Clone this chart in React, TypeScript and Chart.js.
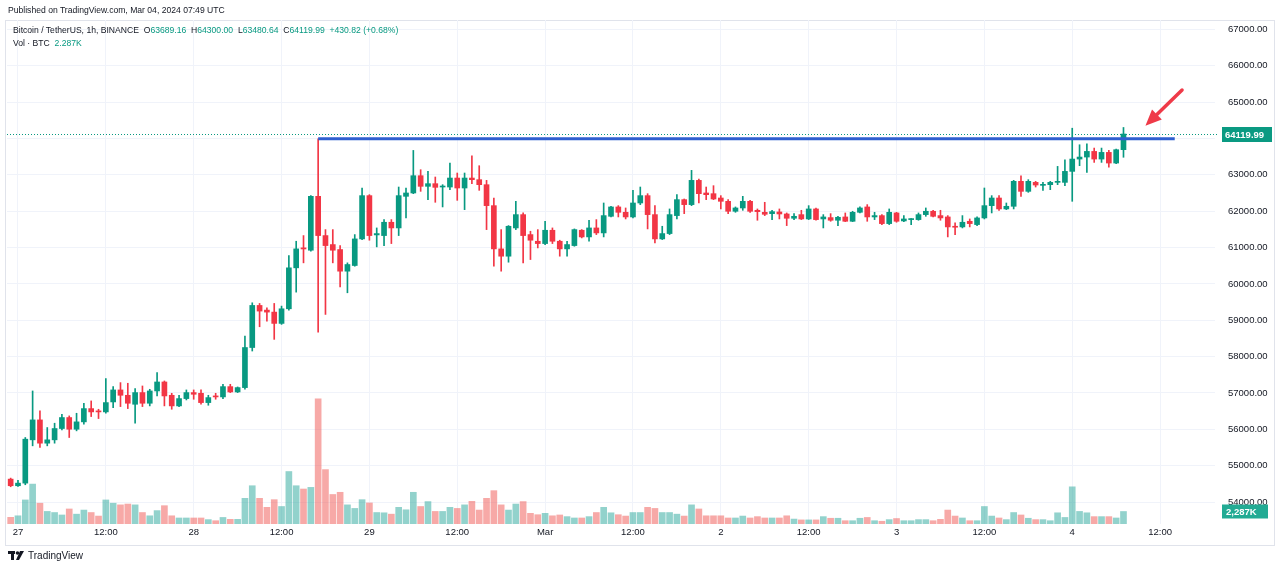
import React, { useEffect, useRef } from "react";
import { Chart, registerables } from "chart.js";
Chart.register(...registerables);

// First candle = Feb 26 23:00 (hour -1 relative to Feb 27 00:00), 1h candles
const firstHour = -1;
const opens = [
  54632, 54450, 54522, 55712, 56260, 55620, 55712, 56023, 56325, 56004, 56206, 56571, 56498, 56480, 56754, 57084, 56937,
  56690, 57011, 56718, 57056, 57303, 56937, 56645, 56846, 57011, 56992, 56736, 56919, 56892, 57175, 57029, 57148, 58250,
  59407, 59279, 59224, 58913, 59315, 60441, 60990, 60925, 62407, 61328, 61081, 60944, 60349, 60505, 61236, 62426, 61346,
  61328, 61694, 61538, 62407, 62499, 62974, 62682, 62755, 62663, 62663, 62910, 62636, 62910, 62865, 62727, 62151, 60962,
  60761, 61538, 61904, 61355, 61172, 61108, 61474, 61172, 60962, 61053, 61474, 61291, 61538, 61401, 61858, 62115, 61968,
  61840, 62224, 62426, 61904, 61236, 61383, 61877, 62316, 62179, 62846, 62499, 62480, 62361, 62270, 61996, 62087, 62270,
  62023, 61968, 61931, 61977, 61922, 61804, 61904, 61785, 62060, 61785, 61822, 61749, 61840, 61721, 61968, 62115, 61840,
  61877, 61657, 61950, 61730, 61767, 61767, 61904, 61996, 61877, 61840, 61584, 61566, 61721, 61630, 61813, 62151, 62361,
  62060, 62133, 62819, 62544, 62791, 62709, 62727, 62791, 62791, 63093, 63432, 63487, 63642, 63432, 63615, 63322, 63689.16,
];
const highs = [
  54660, 54596, 55776, 57056, 56507, 56050, 56169, 56416, 56370, 56443, 56718, 56782, 56553, 57395, 57175, 57285, 57267,
  57120, 57193, 57102, 57559, 57331, 56992, 56937, 57084, 57084, 57084, 56937, 56992, 57239, 57239, 57166, 58565, 59480,
  59462, 59343, 59462, 59389, 60779, 61172, 61328, 62426, 63990, 61492, 61492, 61053, 60578, 61355, 62636, 62453, 61538,
  61767, 61767, 62663, 62636, 63669, 63139, 63093, 62938, 62727, 63322, 63048, 63048, 63523, 63249, 62846, 62361, 61492,
  61602, 62270, 61950, 61447, 61492, 61721, 61538, 61200, 61172, 61511, 61492, 61749, 61767, 62224, 62133, 62151, 62087,
  62572, 62663, 62480, 62151, 61584, 62060, 62453, 62334, 63121, 62883, 62663, 62700, 62426, 62316, 62115, 62407, 62297,
  62060, 62243, 62023, 62060, 61950, 61931, 62023, 62151, 62087, 61904, 61931, 61858, 61950, 61996, 62115, 62179, 61968,
  61904, 62060, 61968, 61877, 61794, 61950, 62087, 62023, 62023, 61877, 61675, 61877, 61785, 61840, 62636, 62426, 62426,
  62224, 62846, 62974, 62865, 62819, 62791, 62819, 63230, 63413, 64280, 63825, 63852, 63734, 63734, 63669, 63706, 64300,
];
const lows = [
  54422, 54431, 54477, 55547, 55501, 55547, 55620, 55986, 55776, 55959, 56142, 56352, 56297, 56443, 56599, 56626, 56571,
  56169, 56626, 56645, 56919, 56645, 56553, 56626, 56809, 56828, 56690, 56663, 56828, 56846, 57011, 57011, 57102, 58154,
  58821, 58977, 58474, 58886, 59279, 59773, 60578, 60898, 58675, 59160, 60578, 59919, 59755, 60486, 61218, 61200, 61017,
  61053, 61108, 61328, 61813, 62480, 62544, 62316, 62243, 62115, 62590, 62297, 62041, 62755, 62572, 61492, 60486, 60349,
  60596, 61492, 60578, 60669, 60989, 61081, 61108, 60761, 60761, 61035, 61264, 61172, 61355, 61291, 61840, 61840, 61785,
  61813, 62179, 61511, 61127, 61218, 61355, 61785, 61931, 62151, 62224, 62316, 62316, 62060, 61931, 61968, 62023, 61968,
  61749, 61877, 61767, 61785, 61602, 61767, 61767, 61767, 61749, 61538, 61721, 61602, 61712, 61712, 61950, 61721, 61767,
  61630, 61630, 61694, 61712, 61630, 61749, 61858, 61840, 61749, 61291, 61355, 61538, 61566, 61602, 61785, 61950, 62023,
  62041, 62060, 62407, 62517, 62663, 62572, 62590, 62727, 62700, 62270, 63249, 63066, 63340, 63340, 63212, 63304, 63480.64,
];
const closes = [
  54450, 54522, 55730, 56260, 55620, 55712, 56023, 56325, 56004, 56206, 56571, 56480, 56480, 56736, 57084, 56937, 56718,
  57011, 56718, 57056, 57303, 56919, 56645, 56846, 57011, 56965, 56736, 56873, 56892, 57175, 57029, 57148, 58250, 59407,
  59252, 59224, 58913, 59315, 60441, 60962, 60960, 62407, 61328, 61053, 60925, 60349, 60532, 61236, 62426, 61328, 61383,
  61694, 61538, 62426, 62499, 62974, 62682, 62755, 62654, 62682, 62910, 62636, 62910, 62865, 62727, 62151, 60962, 60761,
  61584, 61904, 61328, 61200, 61108, 61474, 61172, 60962, 61081, 61492, 61291, 61538, 61401, 61877, 62115, 61968, 61840,
  62224, 62426, 61904, 61236, 61383, 61904, 62316, 62179, 62846, 62480, 62453, 62334, 62270, 61996, 62087, 62270, 61996,
  61986, 61913, 61986, 61922, 61804, 61858, 61785, 62060, 61767, 61840, 61749, 61831, 61721, 61968, 62087, 61840, 61877,
  61657, 61968, 61721, 61785, 61785, 61904, 61996, 61858, 61813, 61566, 61557, 61694, 61657, 61813, 62151, 62361, 62060,
  62133, 62819, 62544, 62819, 62718, 62727, 62791, 62819, 63093, 63432, 63487, 63642, 63432, 63615, 63322, 63689, 64119.99,
];
// Volume in thousands of BTC
const volumesK = [
  1.22, 1.5, 4.4, 7.3, 3.8, 2.3, 2.1, 1.65, 2.75, 1.8, 2.55, 2.1, 1.45, 4.4, 3.8, 3.5, 3.65,
  3.5, 2.1, 1.5, 2.45, 3.35, 1.5, 1.1, 1.1, 1.1, 1.1, 0.8, 0.6, 1.2, 0.85, 0.85, 4.7, 7.0,
  4.7, 3.05, 4.45, 3.2, 9.6, 7.0, 6.4, 6.7, 22.9, 9.95, 5.4, 5.8, 3.5, 2.85, 4.45, 3.85, 2.1,
  2.05, 1.8, 3.05, 2.6, 5.8, 3.2, 4.1, 2.3, 2.3, 3.05, 2.85, 3.5, 4.15, 2.55, 4.7, 6.1, 3.5,
  2.55, 3.65, 4.1, 1.95, 1.7, 1.95, 1.5, 1.65, 1.35, 1.1, 1.1, 1.35, 2.1, 3.05, 2.05, 1.7, 1.45,
  2.1, 2.1, 3.05, 2.85, 2.1, 2.1, 1.8, 1.45, 3.5, 2.75, 1.5, 1.5, 1.5, 1.1, 1.1, 1.45, 1.1,
  1.35, 1.1, 1.1, 1.1, 1.5, 0.9, 0.75, 0.75, 0.75, 1.35, 1.05, 1.05, 0.6, 0.6, 1.05, 1.2, 0.6,
  0.5, 0.8, 1.0, 0.6, 0.6, 0.8, 0.8, 0.6, 0.85, 2.55, 1.45, 1.1, 0.6, 0.6, 3.2, 1.45, 1.1,
  0.8, 2.1, 1.65, 1.05, 0.8, 0.8, 0.6, 2.05, 1.2, 6.8, 2.3, 2.05, 1.35, 1.35, 1.35, 1.1, 2.287,
];
const axisTickLabels = ["27", "12:00", "28", "12:00", "29", "12:00", "Mar", "12:00", "2", "12:00", "3", "12:00", "4", "12:00"];
const emptyHoursAfter = 12;
const priceTicks = [54000, 55000, 56000, 57000, 58000, 59000, 60000, 61000, 62000, 63000, 64000, 65000, 66000, 67000];
const resistanceLevel = 63990;
const resistanceFromHour = 41;
const resistanceToHour = 158;
const lastPrice = 64119.99;
const lastVolumeLabel = "2,287K";
const arrowTail = { hour: 159, price: 65330 };
const arrowHead = { hour: 154, price: 64350 };

const UP = "#089981";
const DOWN = "#f23645";
const UP_VOL = "rgba(38,166,154,0.5)";
const DOWN_VOL = "rgba(239,83,80,0.5)";
const FONT = "'Liberation Sans', Arial, sans-serif";

export default function App() {
  const ref = useRef<HTMLCanvasElement | null>(null);
  useEffect(() => {
    const n = opens.length;
    const total = n + emptyHoursAfter;
    const labels: string[] = [];
    for (let k = 0; k < total; k++) {
      const h = k + firstHour;
      labels.push(h >= 0 && h % 12 === 0 && axisTickLabels[h / 12] !== undefined ? axisTickLabels[h / 12] : "");
    }
    const isUp = opens.map((o, k) => closes[k] >= o);
    const pad = (arr: any[]) => arr.concat(new Array(emptyHoursAfter).fill(null));
    const wickData = pad(opens.map((_, k) => [lows[k], highs[k]]));
    const bodyData = pad(opens.map((o, k) => [o, closes[k]]));
    const volData = pad(volumesK.map((v) => v * 1000));
    const colors = pad(isUp.map((u) => (u ? UP : DOWN)));
    const volColors = pad(isUp.map((u) => (u ? UP_VOL : DOWN_VOL)));
    const lineData = new Array(total).fill(null);
    lineData[resistanceFromHour - firstHour] = resistanceLevel;
    lineData[resistanceToHour - firstHour] = resistanceLevel;

    const overlay = {
      id: "overlay",
      beforeDraw(chart: any) {
        const c = chart.ctx;
        c.save();
        c.fillStyle = "#ffffff";
        c.fillRect(0, 0, chart.width, chart.height);
        c.strokeStyle = "#e0e3eb";
        c.lineWidth = 1;
        c.strokeRect(5.5, 20.5, 1269, 525);
        c.restore();
      },
      afterDatasetsDraw(chart: any) {
        const c = chart.ctx;
        const ys = chart.scales.y;
        const xs = chart.scales.x;
        const vs = chart.scales.vol;
        const area = chart.chartArea;
        c.save();
        // last price dotted line
        const py = Math.round(ys.getPixelForValue(lastPrice)) + 0.5;
        c.strokeStyle = UP;
        c.lineWidth = 1;
        c.setLineDash([1, 2]);
        c.beginPath();
        c.moveTo(area.left, py);
        c.lineTo(area.right + 4, py);
        c.stroke();
        c.setLineDash([]);
        // price label
        c.fillStyle = "#0a9a82";
        c.fillRect(area.right + 7, py - 7.5, 50, 15);
        c.fillStyle = "#ffffff";
        c.font = `bold 9.5px ${FONT}`;
        c.textBaseline = "middle";
        c.textAlign = "left";
        c.fillText(lastPrice.toFixed(2), area.right + 10, py + 0.5);
        // volume label
        const vy = vs.getPixelForValue(volumesK[volumesK.length - 1] * 1000);
        c.fillStyle = "#22ab94";
        c.fillRect(area.right + 7, vy - 7, 46, 14);
        c.fillStyle = "#ffffff";
        c.fillText(lastVolumeLabel, area.right + 11, vy + 0.5);
        // arrow
        const tx = xs.getPixelForValue(arrowTail.hour - firstHour);
        const ty = ys.getPixelForValue(arrowTail.price);
        const hx = xs.getPixelForValue(arrowHead.hour - firstHour);
        const hy = ys.getPixelForValue(arrowHead.price);
        const ang = Math.atan2(hy - ty, hx - tx);
        const headLen = 16;
        const headW = 7;
        const bx = hx - Math.cos(ang) * headLen;
        const by = hy - Math.sin(ang) * headLen;
        c.strokeStyle = "#ef3a48";
        c.fillStyle = "#ef3a48";
        c.lineWidth = 3.5;
        c.lineCap = "round";
        c.beginPath();
        c.moveTo(tx, ty);
        c.lineTo(bx, by);
        c.stroke();
        c.beginPath();
        c.moveTo(hx, hy);
        c.lineTo(bx + Math.cos(ang + Math.PI / 2) * headW, by + Math.sin(ang + Math.PI / 2) * headW);
        c.lineTo(bx + Math.cos(ang - Math.PI / 2) * headW, by + Math.sin(ang - Math.PI / 2) * headW);
        c.closePath();
        c.fill();
        c.restore();
      },
    };

    const chart = new Chart(ref.current as HTMLCanvasElement, {
      type: "bar",
      data: {
        labels,
        datasets: [
          {
            type: "line",
            data: lineData,
            borderColor: "#2f5fd0",
            borderWidth: 3,
            pointRadius: 0,
            spanGaps: true,
            yAxisID: "y",
            order: -1,
          } as any,
          {
            data: bodyData as any,
            backgroundColor: colors,
            borderWidth: 0,
            barThickness: 5,
            minBarLength: 1,
            grouped: false,
            yAxisID: "y",
            order: 0,
          },
          {
            data: wickData as any,
            backgroundColor: colors,
            borderWidth: 0,
            barThickness: 1,
            grouped: false,
            yAxisID: "y",
            order: 1,
          },
          {
            data: volData as any,
            backgroundColor: volColors,
            borderWidth: 0,
            barThickness: 6,
            grouped: false,
            yAxisID: "vol",
            order: 3,
          },
        ],
      },
      options: {
        animation: false,
        responsive: false,
        events: [],
        layout: { padding: { left: 7, top: 20, right: 5, bottom: 26 } },
        plugins: { legend: { display: false }, tooltip: { enabled: false } },
        scales: {
          x: {
            offset: true,
            grid: { offset: false, color: "#f0f3fa", drawTicks: false },
            border: { display: false },
            ticks: {
              autoSkip: false,
              maxRotation: 0,
              padding: 3,
              color: "#131722",
              font: { family: FONT, size: 9.5 },
              callback: (_v: any, i: number) => (labels[i] ? labels[i] : null),
            },
            afterFit: (s: any) => {
              s.height = 20;
            },
          },
          y: {
            position: "right",
            min: 53398,
            max: 67255,
            grid: { color: "#f0f3fa", drawTicks: false },
            border: { display: false },
            afterBuildTicks: (s: any) => {
              s.ticks = priceTicks.map((v) => ({ value: v }));
            },
            ticks: {
              padding: 13,
              color: "#131722",
              font: { family: FONT, size: 9.5 },
              callback: (v: any) => Number(v).toFixed(2),
            },
            afterFit: (s: any) => {
              s.width = 60;
            },
          },
          vol: {
            display: false,
            min: 0,
            max: 92200,
          },
        },
      },
      plugins: [overlay],
    } as any);
    return () => chart.destroy();
  }, []);

  const teal = "#089981";
  const txt: React.CSSProperties = { position: "absolute", fontFamily: FONT, color: "#131722", whiteSpace: "pre", lineHeight: "12px" };
  return (
    <div style={{ position: "fixed", left: 0, top: 0, width: 1280, height: 570, background: "#fff", overflow: "hidden" }}>
      <canvas ref={ref} width={1280} height={570} style={{ position: "absolute", left: 0, top: 0, width: 1280, height: 570 }} />
      <div style={{ ...txt, left: 8, top: 4, fontSize: 8.6 }}>Published on TradingView.com, Mar 04, 2024 07:49 UTC</div>
      <div style={{ ...txt, left: 13, top: 24, fontSize: 8.6 }}>
        {"Bitcoin / TetherUS, 1h, BINANCE  "}
        <span>O</span><span style={{ color: teal }}>63689.16</span>{"  "}
        <span>H</span><span style={{ color: teal }}>64300.00</span>{"  "}
        <span>L</span><span style={{ color: teal }}>63480.64</span>{"  "}
        <span>C</span><span style={{ color: teal }}>64119.99</span>{"  "}
        <span style={{ color: teal }}>+430.82 (+0.68%)</span>
      </div>
      <div style={{ ...txt, left: 13, top: 37, fontSize: 8.6 }}>
        {"Vol · BTC  "}<span style={{ color: teal }}>2.287K</span>
      </div>
      <div style={{ position: "absolute", left: 8, top: 550, display: "flex", alignItems: "center", gap: 3 }}>
        <svg width="17" height="11" viewBox="0 0 17 11">
          <rect x="0" y="1" width="7" height="3" fill="#131722" />
          <rect x="3" y="1" width="3" height="9" fill="#131722" />
          <circle cx="9.5" cy="3" r="1.8" fill="#131722" />
          <polygon points="12,1 16,1 11,10 8,10" fill="#131722" />
        </svg>
        <span style={{ fontFamily: FONT, fontSize: 10, color: "#131722" }}>TradingView</span>
      </div>
    </div>
  );
}
